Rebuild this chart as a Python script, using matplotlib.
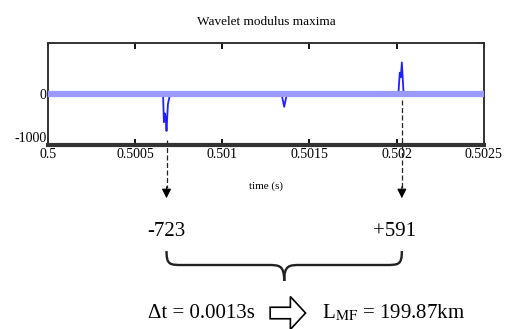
import numpy as np
import matplotlib
matplotlib.use("Agg")
import matplotlib.pyplot as plt
from matplotlib import transforms
from matplotlib.path import Path
from matplotlib.patches import PathPatch, FancyArrow

plt.rcParams['font.family'] = ['Liberation Serif', 'DejaVu Serif']
plt.rcParams['mathtext.fontset'] = 'stix'

# wavelet modulus maxima signal
t_sig = [0.5, 0.50066, 0.500665, 0.50067, 0.500675, 0.50068, 0.500688, 0.5007,
         0.50134, 0.501355, 0.50137,
         0.50201, 0.502018, 0.502024, 0.50203, 0.50204, 0.5025]
v_sig = [0, 0, -550, -380, -450, -723, -200, 0,
         0, -250, 0,
         0, 420, 330, 620, 0, 0]

t_maxima = [0.50068, 0.50203]
maxima_labels = ['-723', '+591']
x_ticks = [0.5, 0.5005, 0.501, 0.5015, 0.502, 0.5025]
x_tick_labels = ['0.5', '0.5005', '0.501', '0.5015', '0.502', '0.5025']
y_ticks = [-1000, 0, 1000]
y_tick_labels = ['-1000', '0', '']
result_text = 'Δt = 0.0013s'
length_text = r'L$_{\mathrm{MF}}$ = 199.87km'

fig = plt.figure(figsize=(5.05, 3.29), dpi=100)
ax = fig.add_axes([0.095, 0.559, 0.863, 0.31])

ax.plot(t_sig, v_sig, color='#2020ff', lw=1.3, zorder=2)
ax.plot([t_sig[0], t_sig[-1]], [0, 0], color='#9a9aff', lw=4.5, zorder=3,
        solid_capstyle='butt')
ax.set_xlim(0.5, 0.5025)
ax.set_ylim(-1000, 1000)
ax.set_xticks(x_ticks)
ax.set_xticklabels(x_tick_labels, fontsize=10)
ax.set_yticks(y_ticks)
ax.set_yticklabels(y_tick_labels, fontsize=10)
ax.tick_params(direction='in', length=4, width=1.3, pad=2, top=True, right=True)
ax.tick_params(axis='y', pad=1)
for lab in ax.get_yticklabels():
    if lab.get_text() == '-1000':
        lab.set_va('bottom')
for s in ax.spines.values():
    s.set_linewidth(1.4)
    s.set_color('#333333')
ax.spines['bottom'].set_linewidth(3)
ax.set_title('Wavelet modulus maxima', fontsize=9.5, pad=13)
ax.set_xlabel('time (s)', fontsize=8, labelpad=15)

# annotations below the axes: x in data units, y in figure fraction
tr = transforms.blended_transform_factory(ax.transData, fig.transFigure)


def fy(py):
    return 1 - py / 329.0


for t, v0 in zip(t_maxima, [fy(140), fy(100)]):
    ax.plot([t, t], [v0, fy(188)], transform=tr, clip_on=False,
            color='#222222', lw=0.9, ls=(0, (4, 2)))
    ax.annotate('', xy=(t, fy(201)), xytext=(t, fy(184)),
                xycoords=tr, textcoords=tr,
                arrowprops=dict(arrowstyle='-|>', color='k', lw=0.8,
                                mutation_scale=14))

for t, lab, dx in zip(t_maxima, maxima_labels, [0, -0.00004]):
    ax.text(t + dx, fy(231), lab, transform=tr, ha='center', va='center',
            fontsize=15)

# curly brace
xl, xr = t_maxima[0], t_maxima[1]
xm = (xl + xr) / 2
d = (xr - xl) * 0.07
y0, y1, y2 = fy(251), fy(265), fy(281)
verts = [(xl, y0), (xl, y1), (xl + d * 0.2, y1), (xl + d, y1),
         (xm - d, y1),
         (xm - d * 0.3, y1), (xm, y1), (xm, y2),
         (xm, y1), (xm + d * 0.3, y1), (xm + d, y1),
         (xr - d, y1),
         (xr - d * 0.2, y1), (xr, y1), (xr, y0)]
codes = [Path.MOVETO, Path.CURVE4, Path.CURVE4, Path.CURVE4,
         Path.LINETO,
         Path.CURVE4, Path.CURVE4, Path.CURVE4,
         Path.CURVE4, Path.CURVE4, Path.CURVE4,
         Path.LINETO,
         Path.CURVE4, Path.CURVE4, Path.CURVE4]
brace = PathPatch(Path(verts, codes), transform=tr, fill=False, lw=1.7,
                  edgecolor='#222222', clip_on=False)
ax.add_patch(brace)

fig.text(0.293, fy(313), result_text, ha='left', va='center', fontsize=15)
fig.text(0.638, fy(313), length_text, ha='left', va='center', fontsize=15)
fig.patches.append(FancyArrow(
    0.535, fy(313), 0.07, 0, width=0.035, head_width=0.1, head_length=0.03,
    length_includes_head=True, transform=fig.transFigure, facecolor='white',
    edgecolor='k', lw=1.2, figure=fig))

fig.savefig('out.png', dpi=100)
